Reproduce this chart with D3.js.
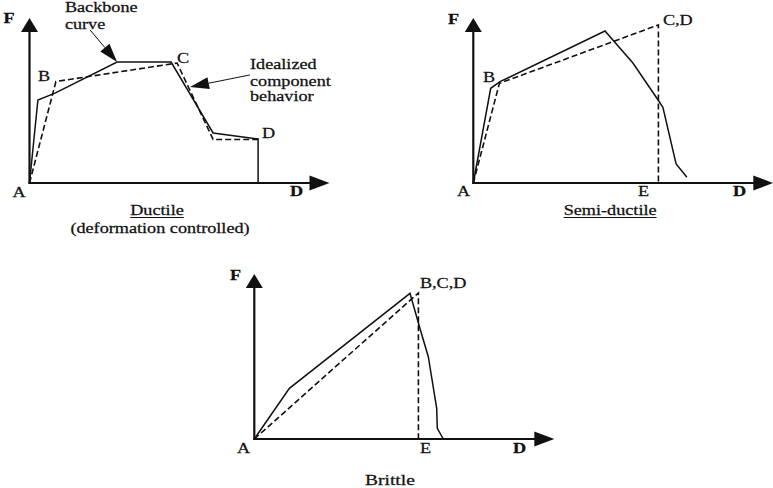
<!DOCTYPE html>
<html>
<head>
<meta charset="utf-8">
<script src="https://cdn.jsdelivr.net/npm/d3@7"></script>
<style>
  html, body { margin: 0; padding: 0; background: #fff; }
  svg { display: block; }
  text { font-family: "Liberation Serif", "Times New Roman", serif; fill: #111; stroke: #111; stroke-width: 0.25; }
</style>
</head>
<body>
<svg id="chart" width="773" height="488"></svg>
<script>
// ---------- Data (D = deformation, F = force, arbitrary units 0..10) ----------
const ductileBackboneD = [0, 0.28, 0.85, 2.92, 4.72, 6.12, 7.62, 7.62];
const ductileBackboneF = [0, 5.03, 5.45, 7.33, 7.33, 3.03, 2.67, 0];
const ductileIdealD    = [0, 0.88, 4.92, 6.12, 7.62];
const ductileIdealF    = [0, 6.15, 7.27, 2.64, 2.64];

const semiBackboneD = [0, 0.58, 0.89, 4.39, 5.32, 6.16, 6.32, 6.76, 7.12];
const semiBackboneF = [0, 5.74, 6.14, 9.21, 7.27, 5.03, 4.59, 1.15, 0.35];
const semiIdealD    = [0, 0.87, 6.17, 6.17];
const semiIdealF    = [0, 6.04, 9.58, 0];

const brittleBackboneD = [0, 1.17, 5.19, 5.52, 5.80, 6.08, 6.10, 6.30];
const brittleBackboneF = [0, 3.07, 8.83, 6.71, 4.99, 1.86, 0.65, 0];
const brittleIdealD    = [0, 5.47, 5.47];
const brittleIdealF    = [0, 8.85, 0];

// Point labels: [text, D, F, anchor, bold]
const ductileLabels = [
  ["F", -0.87, 9.70, "start", true],
  ["A", -0.35, -0.85, "middle", false],
  ["B", 0.28, 6.18, "start", false],
  ["C", 4.92, 7.27, "start", false],
  ["D", 7.75, 2.73, "start", false],
  ["D", 8.68, -0.79, "start", true],
  ["Backbone", 1.18, 10.36, "start", false],
  ["curve", 1.18, 9.36, "start", false],
  ["Idealized", 7.35, 6.91, "start", false],
  ["component", 7.35, 5.88, "start", false],
  ["behavior", 7.35, 4.97, "start", false]
];
const semiLabels = [
  ["F", -0.84, 9.64, "start", true],
  ["A", -0.54, -0.79, "start", false],
  ["B", 0.32, 6.12, "start", false],
  ["C,D", 6.32, 9.58, "start", false],
  ["E", 5.49, -0.79, "start", false],
  ["D", 8.66, -0.79, "start", true]
];
const brittleLabels = [
  ["F", -0.81, 9.64, "start", true],
  ["A", -0.58, -0.85, "start", false],
  ["B,C,D", 5.52, 9.15, "start", false],
  ["E", 5.52, -0.85, "start", false],
  ["D", 8.62, -0.85, "start", true]
];

// Annotation arrows (from label to curve): [D0, F0, D1, F1]
const ductileArrows = [
  [2.02, 9.27, 2.92, 7.33],
  [7.35, 6.55, 5.35, 5.82]
];

// Captions: [text, D, F, underline, fontSize]
const ductileCaptions = [
  ["Ductile", 4.25, -1.94, true, 14],
  ["(deformation controlled)", 4.35, -3.0, false, 14]
];
const semiCaptions = [["Semi-ductile", 4.56, -1.94, true, 14]];
const brittleCaptions = [["Brittle", 4.52, -2.79, false, 15]];

// ---------- Drawing ----------
const svg = d3.select("#chart");
const x = d3.scaleLinear().domain([0, 10]).range([0, 300]);
const y = d3.scaleLinear().domain([0, 10]).range([0, -165]);
const STRETCH = 1.3;

const zip = (a, b) => a.map((v, i) => [v, b[i]]);
const line = d3.line().x(d => x(d[0])).y(d => y(d[1]));

const panels = [
  { origin: [29.5, 183], backbone: zip(ductileBackboneD, ductileBackboneF), ideal: zip(ductileIdealD, ductileIdealF),
    labels: ductileLabels, arrows: ductileArrows, captions: ductileCaptions },
  { origin: [473.3, 183], backbone: zip(semiBackboneD, semiBackboneF), ideal: zip(semiIdealD, semiIdealF),
    labels: semiLabels, arrows: [], captions: semiCaptions },
  { origin: [254.3, 439], backbone: zip(brittleBackboneD, brittleBackboneF), ideal: zip(brittleIdealD, brittleIdealF),
    labels: brittleLabels, arrows: [], captions: brittleCaptions }
];

panels.forEach(p => {
  const g = svg.append("g").attr("transform", `translate(${p.origin[0]},${p.origin[1]})`);

  // axes
  const x0 = x(0), y0 = y(0), xt = x(10), yt = y(10);
  g.append("line").attr("x1", x0).attr("y1", y0 + 1).attr("x2", x0).attr("y2", yt + 10)
    .attr("stroke", "#111").attr("stroke-width", 2.2);
  g.append("line").attr("x1", x0 - 1).attr("y1", y0).attr("x2", xt - 15).attr("y2", y0)
    .attr("stroke", "#111").attr("stroke-width", 2);
  g.append("path").attr("d", `M${x0},${yt} L${x0 - 8.5},${yt + 14} L${x0 + 8.5},${yt + 14} Z`).attr("fill", "#111");
  g.append("path").attr("d", `M${xt},${y0} L${xt - 20},${y0 - 7.5} L${xt - 20},${y0 + 7.5} Z`).attr("fill", "#111");

  // idealized (dashed)
  g.append("path").attr("d", line(p.ideal)).attr("fill", "none")
    .attr("stroke", "#111").attr("stroke-width", 1.6).attr("stroke-dasharray", "6,3")
    .attr("stroke-linejoin", "miter");
  // backbone (solid)
  g.append("path").attr("d", line(p.backbone)).attr("fill", "none")
    .attr("stroke", "#111").attr("stroke-width", 1.5).attr("stroke-linejoin", "miter");

  // annotation arrows
  p.arrows.forEach(a => {
    const X0 = x(a[0]), Y0 = y(a[1]), X1 = x(a[2]), Y1 = y(a[3]);
    const ang = Math.atan2(Y1 - Y0, X1 - X0);
    const L = 19, W = 6;
    const bx = X1 - L * Math.cos(ang), by = Y1 - L * Math.sin(ang);
    g.append("line").attr("x1", X0).attr("y1", Y0).attr("x2", bx).attr("y2", by)
      .attr("stroke", "#111").attr("stroke-width", 1);
    const px = -Math.sin(ang) * W, py = Math.cos(ang) * W;
    g.append("path").attr("d", `M${X1},${Y1} L${bx + px},${by + py} L${bx - px},${by - py} Z`).attr("fill", "#111");
  });

  // labels
  p.labels.forEach(l => {
    g.append("text")
      .attr("transform", `translate(${x(l[1])},${y(l[2])}) scale(${STRETCH},1)`)
      .attr("text-anchor", l[3])
      .attr("font-size", l[4] ? 14 : 14)
      .attr("font-weight", l[4] ? "bold" : "normal")
      .text(l[0]);
  });

  // captions
  p.captions.forEach(c => {
    const t = g.append("text")
      .attr("transform", `translate(${x(c[1])},${y(c[2])}) scale(${STRETCH},1)`)
      .attr("text-anchor", "middle")
      .attr("font-size", c[4])
      .text(c[0]);
    if (c[3]) {
      const w = t.node().getComputedTextLength() * STRETCH;
      g.append("line").attr("x1", x(c[1]) - w / 2).attr("x2", x(c[1]) + w / 2)
        .attr("y1", y(c[2]) + 2.5).attr("y2", y(c[2]) + 2.5)
        .attr("stroke", "#111").attr("stroke-width", 1);
    }
  });
});
</script>
</body>
</html>
